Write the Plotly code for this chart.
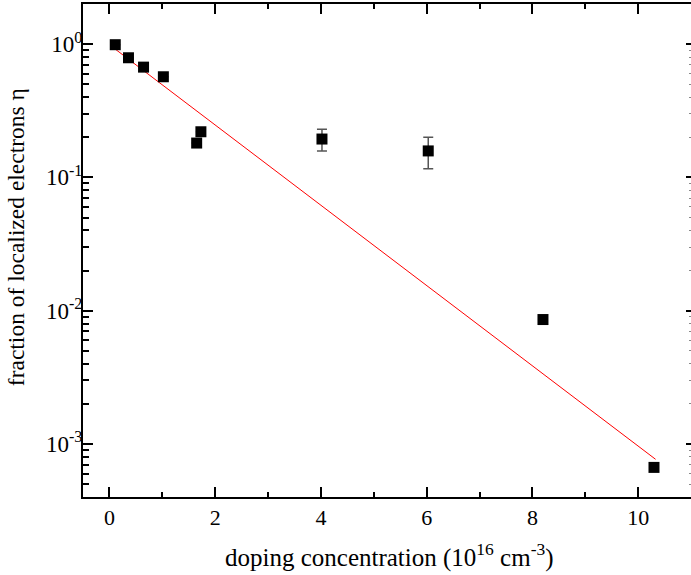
import plotly.graph_objects as go

# Data
doping = [0.11, 0.36, 0.645, 1.02, 1.65, 1.73, 4.02, 6.03, 8.2, 10.3]
eta = [0.99, 0.79, 0.672, 0.569, 0.181, 0.22, 0.194, 0.158, 0.00858, 0.000667]
eta_err = [0, 0, 0, 0, 0, 0, 0.036, 0.042, 0, 0]

# Exponential fit (straight line on the log axis), endpoints
fit_x = [0.11, 10.33]
fit_y = [0.917, 0.000767]

y_major = [1, 0.1, 0.01, 0.001]
y_major_text = ["10<sup>0</sup>", "10<sup>-1</sup>", "10<sup>-2</sup>", "10<sup>-3</sup>"]
y_minor = [m * d for d in [0.0001, 0.001, 0.01, 0.1, 1] for m in range(2, 10)]

x_title = "doping concentration (10<sup>16</sup> cm<sup>-3</sup>)"
y_title = "fraction of localized electrons η"

x_range = [-0.5, 11.0]
y_range = [-3.398, 0.301]

font_family = "'Liberation Serif', 'Times New Roman', serif"

fig = go.Figure()

fig.add_trace(go.Scatter(
    x=fit_x, y=fit_y, mode="lines",
    line=dict(color="red", width=1),
    showlegend=False, hoverinfo="skip",
))

fig.add_trace(go.Scatter(
    x=doping, y=eta, mode="markers",
    marker=dict(symbol="square", size=11, color="black"),
    error_y=dict(type="data", array=eta_err, visible=True,
                 color="#555555", thickness=1.5, width=5),
    showlegend=False,
))

# invisible trace to anchor right-side tick stubs
fig.add_trace(go.Scatter(
    x=[doping[0]], y=[eta[0]], yaxis="y2", mode="markers",
    marker=dict(opacity=0), showlegend=False, hoverinfo="skip",
))

fig.update_layout(
    width=691, height=575,
    margin=dict(l=83, r=0, t=4, b=78),
    paper_bgcolor="white", plot_bgcolor="white",
    font=dict(family=font_family, size=22, color="black"),
    xaxis=dict(
        range=x_range, dtick=2, tick0=0,
        showline=True, linecolor="black", linewidth=2,
        mirror="ticks", ticks="inside", ticklen=10, tickwidth=2, tickcolor="black",
        minor=dict(dtick=1, tick0=0, ticks="inside", ticklen=5, tickwidth=2, tickcolor="black"),
        showgrid=False, zeroline=False,
        tickfont=dict(family=font_family, size=22),
    ),
    yaxis=dict(
        type="log", range=y_range,
        tickvals=y_major, ticktext=y_major_text,
        showline=True, linecolor="black", linewidth=2, mirror=False,
        ticks="inside", ticklen=10, tickwidth=2, tickcolor="black",
        minor=dict(tickvals=y_minor, ticks="inside", ticklen=6, tickwidth=1.5, tickcolor="black"),
        showgrid=False, zeroline=False,
        ticklabelstandoff=-6,
        tickfont=dict(family=font_family, size=23),
    ),
    yaxis2=dict(
        type="log", range=y_range, overlaying="y", side="right",
        anchor="x", tickvals=y_major, showticklabels=False,
        showline=False, ticks="inside", ticklen=5, tickwidth=2, tickcolor="black",
        minor=dict(tickvals=y_minor, ticks="inside", ticklen=2, tickwidth=1, tickcolor="#888888"),
        showgrid=False, zeroline=False,
    ),
    annotations=[
        dict(text=x_title, xref="paper", yref="paper", x=0.504, y=0,
             xanchor="center", yanchor="middle", yshift=-58, showarrow=False,
             font=dict(family=font_family, size=25)),
        dict(text=y_title, xref="paper", yref="paper", x=0, y=0.527,
             xanchor="center", yanchor="middle", xshift=-67, textangle=-90,
             showarrow=False, font=dict(family=font_family, size=23.5)),
    ],
)

fig.write_html(
    "out.html",
    config={"displayModeBar": False},
    post_script="document.body.style.margin='0';document.body.style.overflow='hidden';",
)
